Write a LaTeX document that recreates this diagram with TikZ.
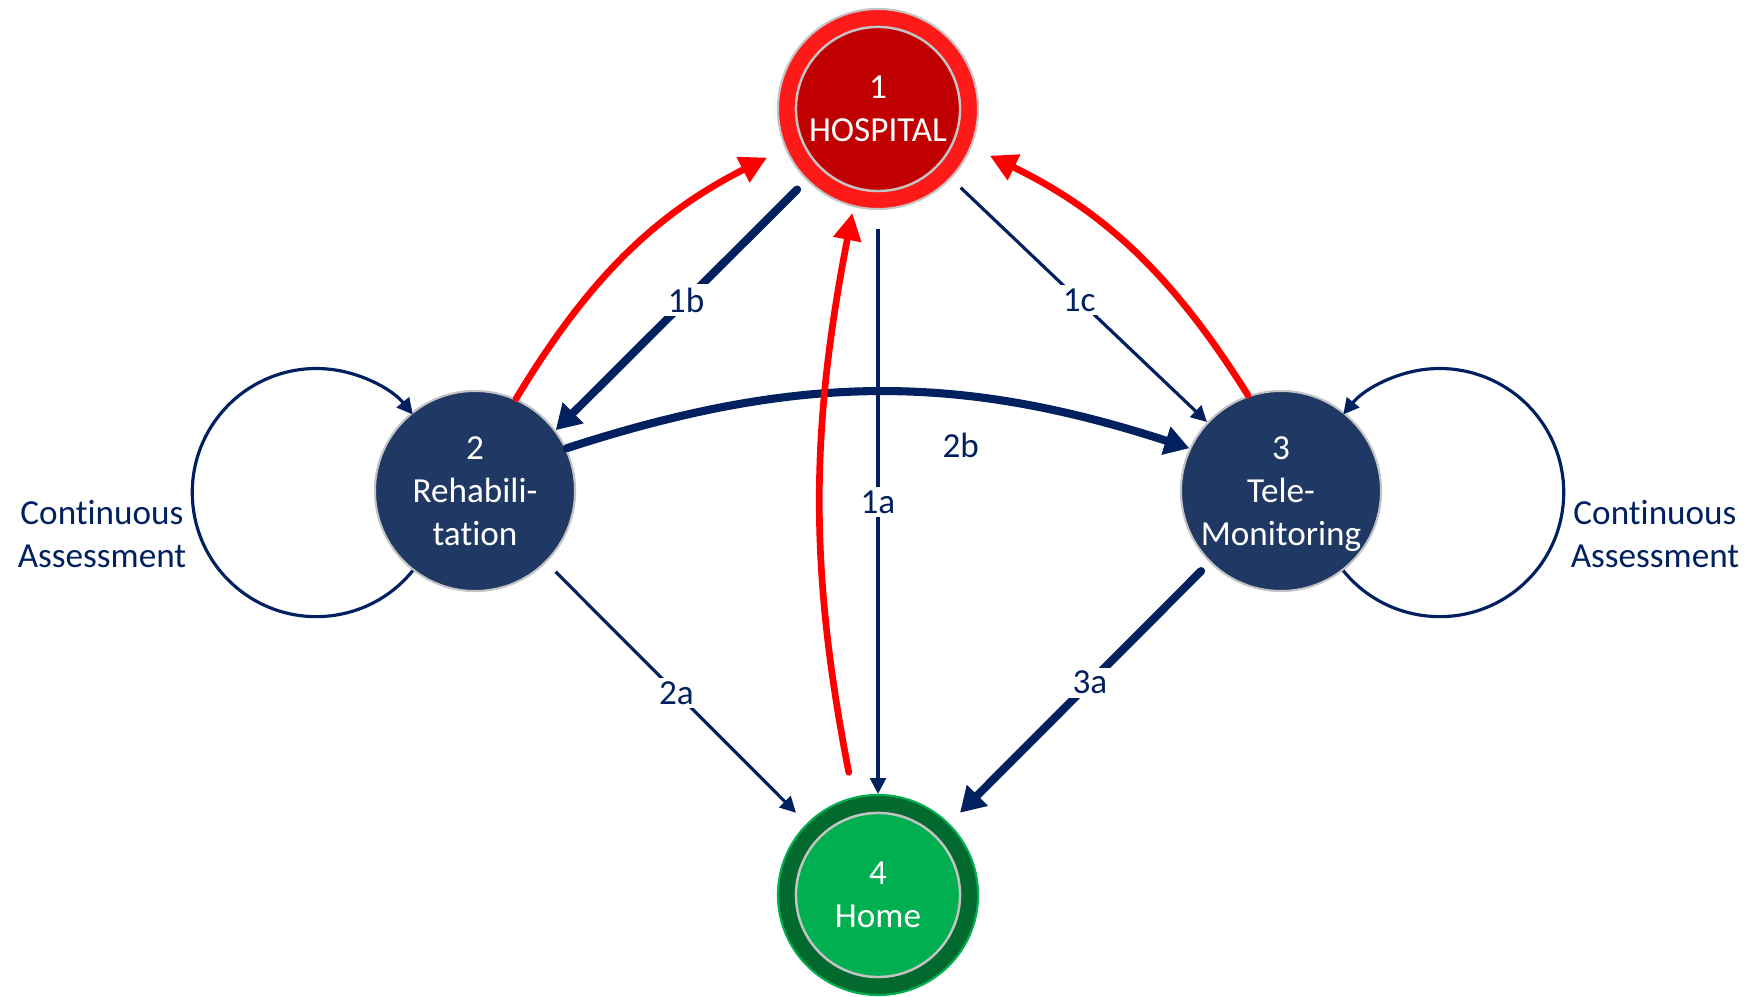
\documentclass[tikz,border=0pt]{standalone}
\usepackage{fontspec}
\setmainfont{Carlito}[Ligatures=NoCommon]
\usetikzlibrary{arrows.meta,positioning}
\definecolor{navy}{HTML}{002060}
\definecolor{nodeblue}{HTML}{203864}
\definecolor{hospred}{HTML}{FF1A1A}
\definecolor{hospdark}{HTML}{C00000}
\definecolor{homedark}{HTML}{036A2F}
\definecolor{homegreen}{HTML}{00B050}
\definecolor{rimgray}{HTML}{C4C4C4}
\definecolor{alarmred}{HTML}{FF0000}
\tikzset{
	>={Triangle[length=4.5pt,width=4.5pt]}
}

\begin{document}
\begin{tikzpicture}[
x = 0.01cm, y = 0.01cm,
every node/.style = {
	font = \fontsize{10pt}{12.2pt}\selectfont
},
state/.style = {
	circle,
	draw = rimgray,
	line width = 0.6pt,
	minimum size = 2cm,
	inner sep = 0pt,
	text = white,
	text depth = -1.7pt,
	align = center
},
patient/.style = {
	state,
	fill = nodeblue
},
ringed/.style 2 args = {
	state,
	fill = #1,
	path picture = {
		\draw[rimgray, line width=0.7pt, fill=#2]
			(path picture bounding box.center) circle (0.82cm);
	}
},
flow/.style = {
	->,
	navy,
	line width = 0.9pt
},
mainflow/.style = {
	-{Triangle[length=7pt,width=8pt]},
	navy,
	line width = 2.3pt,
	line cap = round
},
alarm/.style = {
	-{Triangle[length=7.7pt,width=7.7pt]},
	alarmred,
	line width = 1.9pt,
	line cap = round
},
lbl/.style = {
	text = navy,
	fill = white,
	inner sep = 1pt
},
assess/.style = {
	text = navy,
	align = center
}
]
\useasboundingbox (0,0) rectangle (1747,997);

\node [ringed={hospred}{hospdark}] (hosp) at (878,888) {1\\HOSPITAL};
\node [patient] (rehab) at (475,506) {2\\Rehabili-\\tation};
\node [patient] (tele) at (1281,506) {3\\Tele-\\Monitoring};
\node [ringed={homedark}{homegreen}, draw=homegreen] (home) at (878,102) {4\\Home};

\node [assess] (assessL) at (102,463) {Continuous\\Assessment};
\node [assess] (assessR) at (1655,463) {Continuous\\Assessment};

\draw[flow, shorten <=1.9mm] (hosp) -- node[lbl] {1a} (home);
\draw[mainflow, shorten <=1.3mm] (hosp) -- node[lbl, pos=0.48] {1b} (rehab.37);
\draw[flow, shorten <=1.3mm] (hosp) -- node[lbl] {1c} (tele.137);
\draw[flow, shorten <=1.3mm, shorten >=1.5mm] (rehab) -- node[lbl] {2a} (home);
\draw[mainflow] (rehab.25) to[bend left=18] node[lbl, pos=0.64, below=2.9mm] {2b} (tele.155);
\draw[mainflow, shorten <=1.2mm, shorten >=1.5mm] (tele) -- node[lbl, pos=0.46] {3a} (home);

\draw[flow] (rehab.232) arc[start angle=-39, end angle=-321, radius=1.24cm];
\draw[flow] (tele.308) arc[start angle=219, end angle=501, radius=1.24cm];

\draw[alarm, shorten >=2mm] (rehab.66) to[bend left=16] (hosp.203);
\draw[alarm, shorten <=2.5mm, shorten >=0.6mm] (home.104) to[bend left=11] (hosp.256);
\draw[alarm, shorten >=2mm] (tele.109) to[bend right=16] (hosp.338);

\end{tikzpicture}
\end{document}
